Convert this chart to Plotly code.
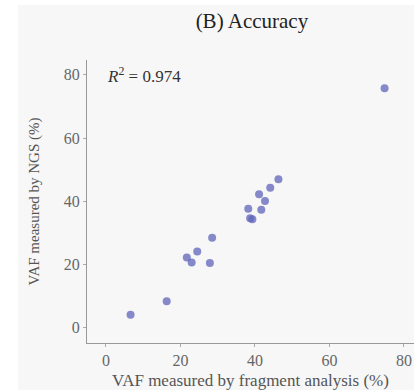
import plotly.graph_objects as go

# VAF measured by fragment analysis (%) vs NGS (%)
vaf_fragment = [74.8, 46.3, 44.1, 41.1, 42.7, 38.2, 41.7, 38.7, 39.3, 28.5, 24.5, 21.7, 23.0, 27.9, 16.3, 6.6]
vaf_ngs = [75.8, 47.0, 44.3, 42.2, 40.1, 37.6, 37.3, 34.6, 34.3, 28.5, 24.1, 22.2, 20.6, 20.5, 8.4, 4.1]
x_ticks = [0, 20, 40, 60, 80]
y_ticks = [0, 20, 40, 60, 80]
r_squared = 0.974

FONT = "Liberation Serif"

fig = go.Figure()
fig.add_trace(go.Scatter(
    x=vaf_fragment, y=vaf_ngs, mode="markers",
    marker=dict(size=8, color="rgb(95,100,185)", opacity=0.75, line=dict(width=0)),
    showlegend=False, hoverinfo="x+y",
))

fig.add_shape(type="rect", xref="paper", yref="paper",
              x0=-0.211, x1=1.0, y0=-0.166, y1=1.194,
              fillcolor="#f7f7f7", line=dict(width=0), layer="below")

fig.add_annotation(
    text=f"<i>R</i><sup>2</sup> = {r_squared}", xref="paper", yref="paper",
    x=0.055, y=0.947, xanchor="left", yanchor="middle", showarrow=False,
    font=dict(family=FONT, size=17, color="#333333"),
)

fig.update_layout(
    width=415, height=391,
    margin=dict(l=87, r=1, t=60, b=48),
    paper_bgcolor="white", plot_bgcolor="#f7f7f7",
    title=dict(text="(B) Accuracy", x=0.607, xanchor="center", y=0.947, yanchor="middle",
               font=dict(family=FONT, size=21, color="#222222")),
    font=dict(family=FONT, color="#555555"),
)
fig.update_xaxes(
    range=[-5.1, 82.7], tickvals=x_ticks, showgrid=False, zeroline=False,
    showline=True, linecolor="#999999", linewidth=1.3,
    ticks="outside", ticklen=3, tickcolor="#aaaaaa",
    tickfont=dict(family=FONT, size=16, color="#666666"),
    title=dict(text="VAF measured by fragment analysis (%)", standoff=5,
               font=dict(family=FONT, size=17, color="#555555")),
)
fig.update_yaxes(
    range=[-4.84, 84.7], tickvals=y_ticks, showgrid=False, zeroline=False,
    showline=True, linecolor="#999999", linewidth=1.3,
    ticks="outside", ticklen=3, tickcolor="#aaaaaa",
    tickfont=dict(family=FONT, size=16, color="#666666"),
    title=dict(text="VAF measured by NGS (%)", standoff=20,
               font=dict(family=FONT, size=15, color="#555555")),
)

fig.write_html("out.html")
